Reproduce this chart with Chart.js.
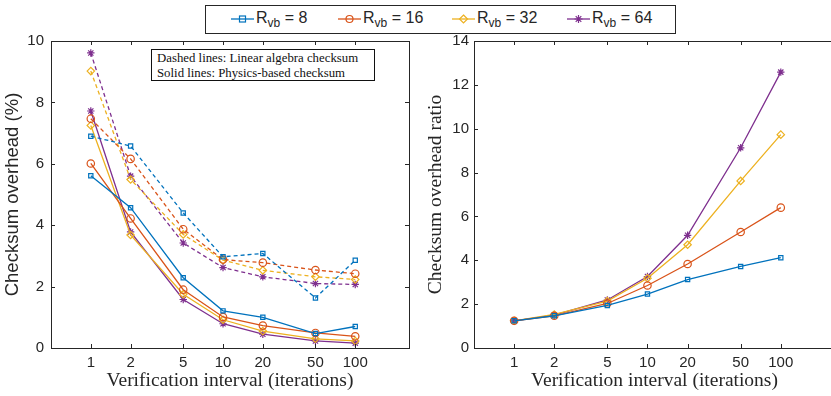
<!DOCTYPE html>
<html>
<head>
<meta charset="utf-8">
<script src="https://cdn.jsdelivr.net/npm/chart.js@4.4.0/dist/chart.umd.min.js"></script>
<style>
  body { margin: 0; background: #fff; }
  #wrap { position: relative; width: 831px; height: 396px; overflow: hidden; }
  .panel { position: absolute; top: 0; height: 396px; }
  #legend { position: absolute; left: 205px; top: 5px; width: 469px; height: 27px;
    border: 1px solid #262626; background: #fff; font: 16px "Liberation Sans", Arial, sans-serif; color: #262626; }
  #legend .item { position: absolute; top: 3px; white-space: nowrap; }
  #legend svg { position: absolute; top: 7px; }
  #legend sub { font-size: 12px; vertical-align: -4px; line-height: 0; }
  #note { position: absolute; left: 151px; top: 49px; width: 217px; height: 29px;
    border: 1.5px solid #111; background: #fff; padding: 1px 0 0 5px;
    font: 12.8px "Liberation Serif", "Times New Roman", serif; line-height: 15px; color: #111; }
</style>
</head>
<body>
<div id="wrap">
  <div class="panel" style="left:0;width:415px"><canvas id="overheadChart" width="415" height="396"></canvas></div>
  <div class="panel" style="left:420px;width:421px"><canvas id="ratioChart" width="421" height="396"></canvas></div>
  <div id="legend"></div>
  <div id="note">Dashed lines: Linear algebra checksum<br>Solid lines: Physics-based checksum</div>
</div>
<script>
// verification intervals (x axis)
const intervals = [1, 2, 5, 10, 20, 50, 100];
const rvbValues = ['8', '16', '32', '64'];
const colors = ['#0072BD', '#D95319', '#EDB120', '#7E2F8E'];
const markers = ['rect', 'circle', 'rectRot', 'star'];

// checksum overhead (%) - linear algebra checksum (dashed)
const linAlg8 = [6.90, 6.58, 4.40, 2.97, 3.08, 1.63, 2.86];
const linAlg16 = [7.47, 6.16, 3.87, 2.88, 2.78, 2.54, 2.42];
const linAlg32 = [9.02, 5.49, 3.70, 2.86, 2.53, 2.32, 2.23];
const linAlg64 = [9.61, 5.60, 3.42, 2.62, 2.32, 2.10, 2.07];

// checksum overhead (%) - physics-based checksum (solid)
const physics8 = [5.61, 4.57, 2.29, 1.21, 1.00, 0.47, 0.70];
const physics16 = [6.01, 4.22, 1.90, 1.01, 0.73, 0.49, 0.38];
const physics32 = [7.25, 3.68, 1.75, 0.92, 0.55, 0.30, 0.23];
const physics64 = [7.72, 3.78, 1.58, 0.79, 0.45, 0.23, 0.16];

// checksum overhead ratio
const ratio8 = [1.24, 1.47, 1.94, 2.46, 3.12, 3.72, 4.12];
const ratio16 = [1.24, 1.47, 2.03, 2.85, 3.83, 5.29, 6.40];
const ratio32 = [1.24, 1.53, 2.14, 3.18, 4.71, 7.62, 9.73];
const ratio64 = [1.24, 1.50, 2.19, 3.26, 5.14, 9.13, 12.58];

const linAlg = [linAlg8, linAlg16, linAlg32, linAlg64];
const physics = [physics8, physics16, physics32, physics64];
const ratios = [ratio8, ratio16, ratio32, ratio64];

const axisColor = '#262626';
const sansFont = '"Liberation Sans", Arial, sans-serif';
const serifFont = '"Liberation Serif", "Times New Roman", serif';

function toPoints(vals) {
  return vals.map((v, i) => ({ x: intervals[i], y: v }));
}

function series(vals, i, dashed) {
  return {
    data: toPoints(vals),
    borderColor: colors[i],
    backgroundColor: 'rgba(0,0,0,0)',
    borderWidth: 1.3,
    borderDash: dashed ? [4, 3] : [],
    pointStyle: markers[i],
    pointRadius: i === 0 ? 3 : 3.7,
    pointBorderWidth: 1.2,
    pointBorderColor: colors[i],
    pointBackgroundColor: 'rgba(0,0,0,0)',
    tension: 0,
    clip: false
  };
}

// box around the axes with inward ticks on all sides (matlab style)
const boxPlugin = {
  id: 'box',
  afterDraw(chart) {
    const { ctx, chartArea: a, scales } = chart;
    ctx.save();
    ctx.strokeStyle = axisColor;
    ctx.lineWidth = 1;
    ctx.strokeRect(Math.round(a.left) + 0.5, Math.round(a.top) + 0.5,
      Math.round(a.right - a.left), Math.round(a.bottom - a.top));
    ctx.beginPath();
    intervals.forEach(v => {
      const px = Math.round(scales.x.getPixelForValue(v)) + 0.5;
      ctx.moveTo(px, a.bottom); ctx.lineTo(px, a.bottom - 4);
      ctx.moveTo(px, a.top); ctx.lineTo(px, a.top + 4);
    });
    scales.y.ticks.forEach(t => {
      const py = Math.round(scales.y.getPixelForValue(t.value)) + 0.5;
      ctx.moveTo(a.left, py); ctx.lineTo(a.left + 4, py);
      ctx.moveTo(a.right, py); ctx.lineTo(a.right - 4, py);
    });
    ctx.stroke();
    ctx.restore();
  }
};

function makeOptions(opt) {
  return {
    responsive: false,
    animation: false,
    layout: { padding: { top: opt.top, right: opt.right, left: 0, bottom: 0 } },
    plugins: { legend: { display: false }, tooltip: { enabled: false } },
    scales: {
      x: {
        type: 'logarithmic',
        min: 0.5,
        max: opt.xMax,
        afterBuildTicks(s) { s.ticks = intervals.map(v => ({ value: v })); },
        afterFit(s) { s.height = 48; },
        grid: { display: false, drawTicks: false, tickLength: 0 },
        border: { display: false },
        ticks: {
          color: axisColor, padding: 6, maxRotation: 0, autoSkip: false,
          font: { family: sansFont, size: 15 },
          callback: v => String(v)
        },
        title: {
          display: true, text: 'Verification interval (iterations)', color: axisColor,
          font: { family: serifFont, size: 19.5 }, padding: { top: 0, bottom: 3 }
        }
      },
      y: {
        min: 0,
        max: opt.yMax,
        afterFit(s) { s.width = opt.yWidth; },
        grid: { display: false, drawTicks: false, tickLength: 0 },
        border: { display: false },
        ticks: {
          stepSize: 2, color: axisColor, padding: opt.yPad,
          font: { family: sansFont, size: 15 }
        },
        title: {
          display: true, text: opt.yTitle, color: axisColor,
          font: opt.yTitleFont, padding: { top: opt.yTitlePad, bottom: 0 }
        }
      }
    }
  };
}

const overheadSets = [];
linAlg.forEach((vals, i) => overheadSets.push(series(vals, i, true)));
physics.forEach((vals, i) => overheadSets.push(series(vals, i, false)));

new Chart(document.getElementById('overheadChart'), {
  type: 'line',
  data: { datasets: overheadSets },
  options: makeOptions({
    top: 41, right: 6, xMax: 255, yMax: 10, yWidth: 51, yPad: 7,
    yTitle: 'Checksum overhead (%)', yTitleFont: { family: sansFont, size: 18.5 }, yTitlePad: 2
  }),
  plugins: [boxPlugin]
});

// right panel extends past the picture edge, so its right border is cut off
new Chart(document.getElementById('ratioChart'), {
  type: 'line',
  data: { datasets: ratios.map((vals, i) => series(vals, i, false)) },
  options: makeOptions({
    top: 41, right: 6, xMax: 255, yMax: 14, yWidth: 54, yPad: 5,
    yTitle: 'Checksum overhead ratio', yTitleFont: { family: serifFont, size: 19.5 }, yTitlePad: 4
  }),
  plugins: [boxPlugin]
});

// shared legend across both panels
const legend = document.getElementById('legend');
const legendX = [25, 132, 246, 361];
const markerSvg = [
  c => `<rect x="8.5" y="3" width="6" height="6" fill="none" stroke="${c}" stroke-width="1.2"/>`,
  c => `<circle cx="11.5" cy="6" r="3.5" fill="none" stroke="${c}" stroke-width="1.2"/>`,
  c => `<path d="M11.5 2 L15.5 6 L11.5 10 L7.5 6 Z" fill="none" stroke="${c}" stroke-width="1.2"/>`,
  c => `<path d="M11.5 2 V10 M7.5 6 H15.5 M8.7 3.2 L14.3 8.8 M14.3 3.2 L8.7 8.8" stroke="${c}" stroke-width="1.2"/>`
];
rvbValues.forEach((r, i) => {
  const x = legendX[i];
  legend.insertAdjacentHTML('beforeend',
    `<svg style="left:${x}px" width="23" height="12"><line x1="0" y1="6" x2="23" y2="6" stroke="${colors[i]}" stroke-width="1.3"/>${markerSvg[i](colors[i])}</svg>` +
    `<span class="item" style="left:${x + 25}px">R<sub>vb</sub> = ${r}</span>`);
});
</script>
</body>
</html>
